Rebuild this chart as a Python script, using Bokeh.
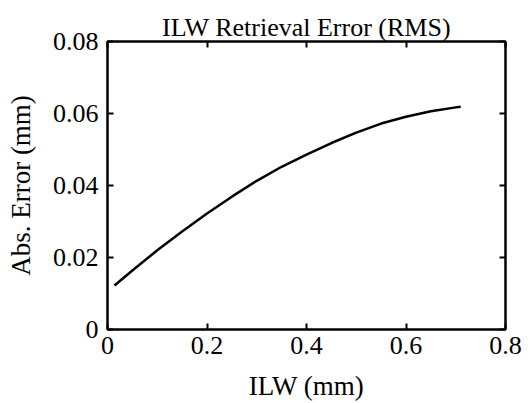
from bokeh.plotting import figure
from bokeh.models import LinearAxis, FixedTicker, Range1d
from bokeh.embed import file_html
from bokeh.resources import INLINE

# ---- data ----
ilw = [0.014, 0.05, 0.10, 0.15, 0.20, 0.25, 0.30, 0.35, 0.40, 0.45, 0.50, 0.55, 0.60, 0.65, 0.70, 0.71]
err = [0.0122, 0.0164, 0.0220, 0.0272, 0.0322, 0.0369, 0.0413, 0.0452, 0.0486, 0.0518, 0.0547, 0.0572, 0.0591, 0.0606, 0.0617, 0.0619]

x_ticks = [0, 0.2, 0.4, 0.6, 0.8]
x_tick_labels = ["0", "0.2", "0.4", "0.6", "0.8"]
y_ticks = [0, 0.02, 0.04, 0.06, 0.08]
y_tick_labels = ["0", "0.02", "0.04", "0.06", "0.08"]

title_text = "ILW Retrieval Error (RMS)"
x_label = "ILW (mm)"
y_label = "Abs. Error (mm)"

FONT = "Liberation Serif"
TICK_SIZE = "26px"
LABEL_SIZE = "27px"
TITLE_SIZE = "26px"

p = figure(width=530, height=403,
           x_range=Range1d(0, 0.8), y_range=Range1d(0, 0.08),
           output_backend="svg", toolbar_location=None,
           min_border_left=107, min_border_right=25,
           min_border_top=41, min_border_bottom=74)

p.background_fill_color = "white"
p.border_fill_color = "white"
p.outline_line_color = "black"
p.outline_line_width = 2
p.xgrid.visible = False
p.ygrid.visible = False

p.title.text = title_text
p.title.align = "center"
p.title.text_font = FONT
p.title.text_font_size = TITLE_SIZE
p.title.text_font_style = "normal"
p.title.text_color = "black"
p.title.standoff = 0


def style_axis(ax, ticks, labels, show_labels):
    ax.ticker = FixedTicker(ticks=ticks)
    ax.axis_line_color = "black"
    ax.axis_line_width = 2
    ax.major_tick_line_color = "black"
    ax.major_tick_line_width = 2
    ax.major_tick_in = 6
    ax.major_tick_out = 0
    ax.minor_tick_line_color = None
    ax.major_label_text_font = FONT
    if show_labels:
        ax.major_label_overrides = {t: l for t, l in zip(ticks, labels)}
        ax.major_label_text_font_size = TICK_SIZE
        ax.major_label_text_color = "black"
    else:
        ax.major_label_text_font_size = "0px"
        ax.major_label_text_color = None
        ax.major_label_standoff = 0


xa = p.xaxis[0]
ya = p.yaxis[0]
style_axis(xa, x_ticks, x_tick_labels, True)
style_axis(ya, y_ticks, y_tick_labels, True)
xa.major_label_standoff = 7
ya.major_label_standoff = 9

xa.axis_label = x_label
ya.axis_label = y_label
for ax in (xa, ya):
    ax.axis_label_text_font = FONT
    ax.axis_label_text_font_size = LABEL_SIZE
    ax.axis_label_text_font_style = "normal"
    ax.axis_label_text_color = "black"
xa.axis_label_standoff = 14
ya.axis_label_standoff = 14

top = LinearAxis()
style_axis(top, x_ticks, x_tick_labels, False)
p.add_layout(top, "above")
right = LinearAxis()
style_axis(right, y_ticks, y_tick_labels, False)
p.add_layout(right, "right")

p.line(ilw, err, line_color="black", line_width=2.5)

open("out.html", "w").write(file_html(p, INLINE))
